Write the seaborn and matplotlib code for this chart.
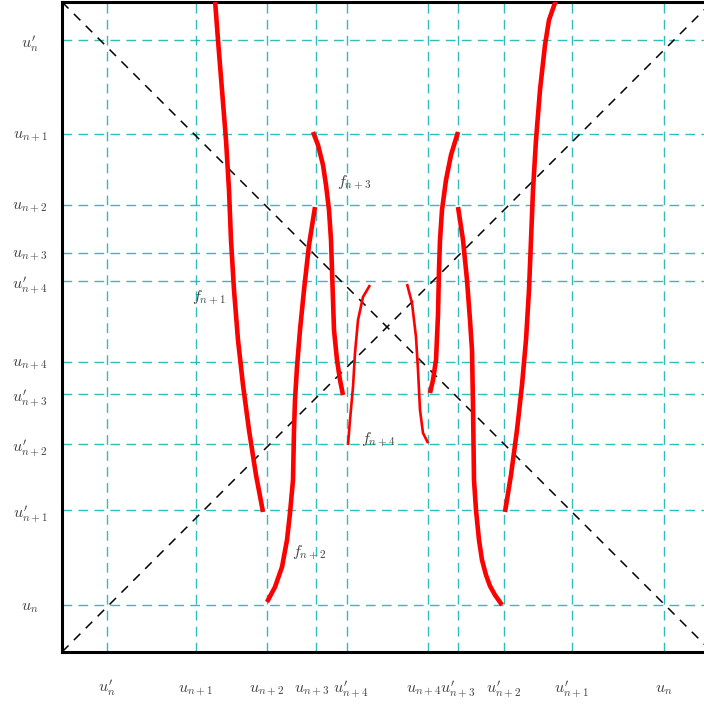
import matplotlib
matplotlib.use("Agg")
import matplotlib.pyplot as plt
import matplotlib.transforms as mtransforms
import seaborn as sns

sns.set_theme(style="white")
plt.rcParams["mathtext.fontset"] = "cm"
plt.rcParams["font.family"] = ["DejaVu Sans"]

# tick positions and labels (x and y use different orderings)
x_ticks = [45, 134, 205, 254, 285, 366, 396, 442, 510, 602]
x_labels = [r"$u^{\prime}_{n}$", r"$u_{n+1}$", r"$u_{n+2}$", r"$u_{n+3}$", r"$u^{\prime}_{n+4}$",
            r"$u_{n+4}$", r"$u^{\prime}_{n+3}$", r"$u^{\prime}_{n+2}$", r"$u^{\prime}_{n+1}$", r"$u_n$"]
y_ticks = [612, 518, 447, 399, 371, 290, 258, 208, 142, 47]
y_labels = [r"$u^{\prime}_{n}$", r"$u_{n+1}$", r"$u_{n+2}$", r"$u_{n+3}$", r"$u^{\prime}_{n+4}$",
            r"$u_{n+4}$", r"$u^{\prime}_{n+3}$", r"$u^{\prime}_{n+2}$", r"$u^{\prime}_{n+1}$", r"$u_n$"]

# red branches
f1_x = [153, 156, 160, 164, 167, 169, 172, 176, 181, 187, 194, 201]
f1_y = [652, 612, 562, 512, 462, 412, 362, 312, 267, 222, 177, 140]
f2_x = [205, 213, 220, 225, 228, 231, 232, 233, 235, 238, 242, 247, 253]
f2_y = [50, 65, 85, 112, 139, 172, 222, 252, 285, 322, 362, 407, 445]
f3_x = [251, 256, 261, 264, 267, 269, 270, 271, 272, 275, 278, 281]
f3_y = [520, 507, 487, 467, 442, 412, 382, 352, 322, 292, 272, 257]
f4_x = [286, 288, 291, 293, 296, 301, 308]
f4_y = [207, 232, 265, 299, 332, 355, 367]
g4_x = [345, 350, 354, 356, 358, 361, 366]
g4_y = [368, 349, 315, 282, 242, 219, 209]
g3_x = [368, 371, 374, 376, 376, 377, 378, 380, 384, 389, 396]
g3_y = [259, 272, 292, 322, 352, 382, 412, 442, 472, 497, 520]
g2_x = [396, 401, 405, 408, 410, 411, 411, 412, 414, 417, 420, 424, 428, 433, 440]
g2_y = [445, 412, 372, 332, 302, 272, 222, 172, 142, 112, 92, 77, 66, 57, 47]
g1_x = [443, 449, 455, 460, 464, 467, 469, 471, 474, 478, 483, 487, 494]
g1_y = [140, 177, 222, 267, 312, 362, 412, 462, 512, 562, 607, 632, 652]

names = [("f_{n+1}", 147, 354), ("f_{n+3}", 292, 469), ("f_{n+4}", 316, 212), ("f_{n+2}", 247, 99)]

# small horizontal nudges of crowded x tick labels (points)
x_nudge = {3: -3, 4: 3, 5: -3}

lim = 650

fig = plt.figure(figsize=(7.04, 7.06), dpi=100)
ax = fig.add_axes([62 / 704, 54 / 706, 650 / 704, 650 / 706])
ax.set_xlim(0, lim)
ax.set_ylim(0, lim)

grid_col = "#10b0b0"
for xv in x_ticks:
    ax.axvline(xv, color=grid_col, lw=1.0, ls=(0, (7, 4.5)), alpha=0.85, zorder=1)
for yv in y_ticks:
    ax.axhline(yv, color=grid_col, lw=1.0, ls=(0, (7, 4.5)), alpha=0.85, zorder=1)

ax.plot([0, lim], [0, lim], color="black", lw=1.1, ls=(0, (6, 5)), zorder=2)
ax.plot([0, lim], [lim, 0], color="black", lw=1.1, ls=(0, (6, 5)), zorder=2)

thick = [(f1_x, f1_y), (f2_x, f2_y), (f3_x, f3_y), (g3_x, g3_y), (g2_x, g2_y), (g1_x, g1_y)]
thin = [(f4_x, f4_y), (g4_x, g4_y)]
for xs, ys in thick:
    sns.lineplot(x=xs, y=ys, sort=False, color="red", lw=3.3, ax=ax, zorder=3,
                 solid_joinstyle="round", solid_capstyle="butt")
for xs, ys in thin:
    sns.lineplot(x=xs, y=ys, sort=False, color="red", lw=1.9, ax=ax, zorder=3,
                 solid_joinstyle="round", solid_capstyle="butt")

for name, tx, ty in names:
    ax.text(tx, ty, "$" + name + "$", ha="center", va="center", fontsize=11.5, color="#404040")

ax.set_xticks(x_ticks)
ax.set_xticklabels(x_labels, fontsize=11.5, color="#404040", va="baseline")
ax.set_yticks(y_ticks)
ax.set_yticklabels(y_labels, fontsize=11.5, color="#404040", ha="center")
ax.tick_params(axis="x", length=0, pad=29)
ax.tick_params(axis="y", length=0, pad=23)

for i, lab in enumerate(ax.get_xticklabels()):
    if i in x_nudge:
        lab.set_transform(lab.get_transform() +
                          mtransforms.ScaledTranslation(x_nudge[i] / 72, 0, fig.dpi_scale_trans))

for s in ax.spines.values():
    s.set_color("black")
    s.set_linewidth(2.2)

fig.savefig("out.png", dpi=100)
